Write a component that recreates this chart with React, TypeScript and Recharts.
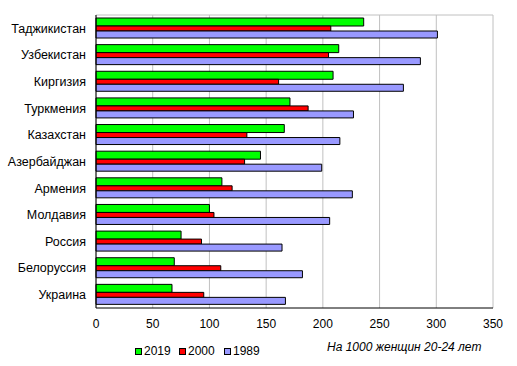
import React from "react";
import { BarChart, Bar, XAxis, YAxis, CartesianGrid, Legend } from "recharts";

const countries = [
  "Таджикистан",
  "Узбекистан",
  "Киргизия",
  "Туркмения",
  "Казахстан",
  "Азербайджан",
  "Армения",
  "Молдавия",
  "Россия",
  "Белоруссия",
  "Украина",
];
const v2019 = [236, 214, 209, 171, 166, 145, 111, 100, 75, 69, 67];
const v2000 = [207, 205, 161, 187, 133, 131, 120, 104, 93, 110, 95];
const v1989 = [301, 286, 271, 227, 215, 199, 226, 206, 164, 182, 167];
const seriesNames = ["2019", "2000", "1989"];
const seriesColors = ["#00ff00", "#ff0000", "#9999ff"];
const xTicks = [0, 50, 100, 150, 200, 250, 300, 350];
const note = "На 1000 женщин 20-24 лет";

const data = countries.map((name, i) => ({
  name,
  y2019: v2019[i],
  y2000: v2000[i],
  y1989: v1989[i],
}));

const FONT = "'Liberation Sans', Arial, sans-serif";

const LegendContent = () => {
  const widths = [44, 45, 40];
  return (
    <div style={{ position: "relative", height: 18, fontFamily: FONT, fontSize: 12, color: "#000" }}>
      <div style={{ position: "absolute", left: 135, top: 2, display: "flex", alignItems: "center" }}>
        {seriesNames.map((n, i) => (
          <div key={n} style={{ display: "flex", alignItems: "center", width: widths[i] }}>
            <span
              style={{
                display: "inline-block",
                width: 5,
                height: 5,
                background: seriesColors[i],
                border: "1px solid #000",
                marginRight: 2,
              }}
            />
            <span>{n}</span>
          </div>
        ))}
      </div>
    </div>
  );
};

export default function App() {
  return (
    <div style={{ position: "absolute", left: 0, top: 0, width: 517, height: 366, background: "#fff" }}>
      <BarChart
        width={517}
        height={366}
        data={data}
        layout="vertical"
        margin={{ top: 15, right: 24, left: 0, bottom: 0 }}
        barGap={0}
      >
        <CartesianGrid
          horizontal={true}
          vertical={true}
          stroke="#c0c0c0"
          horizontalCoordinatesGenerator={(p: any) => [p.offset.top]}
        />
        <XAxis
          type="number"
          domain={[0, 350]}
          ticks={xTicks}
          interval={0}
          tickLine={false}
          tickSize={0}
          tickMargin={11}
          axisLine={{ stroke: "#000" }}
          tick={{ fill: "#000", fontSize: 12, fontFamily: FONT }}
          height={58}
        />
        <YAxis
          type="category"
          dataKey="name"
          width={96}
          tickLine={false}
          tickSize={0}
          tickMargin={10}
          axisLine={{ stroke: "#000" }}
          tick={{ fill: "#000", fontSize: 12.5, fontFamily: FONT }}
          interval={0}
        />
        <Legend
          layout="horizontal"
          verticalAlign="middle"
          align="center"
          wrapperStyle={{ top: 342, left: 0, width: 517 }}
          content={<LegendContent />}
        />
        <Bar dataKey="y2019" name="2019" fill="#00ff00" stroke="#000" strokeWidth={1} barSize={8} isAnimationActive={false} />
        <Bar dataKey="y2000" name="2000" fill="#ff0000" stroke="#000" strokeWidth={1} barSize={5} isAnimationActive={false} />
        <Bar dataKey="y1989" name="1989" fill="#9999ff" stroke="#000" strokeWidth={1} barSize={7} isAnimationActive={false} />
      </BarChart>
      <div
        style={{
          position: "absolute",
          left: 327,
          top: 340,
          fontFamily: FONT,
          fontSize: 12,
          fontStyle: "italic",
          color: "#000",
          whiteSpace: "nowrap",
        }}
      >
        {note}
      </div>
    </div>
  );
}
